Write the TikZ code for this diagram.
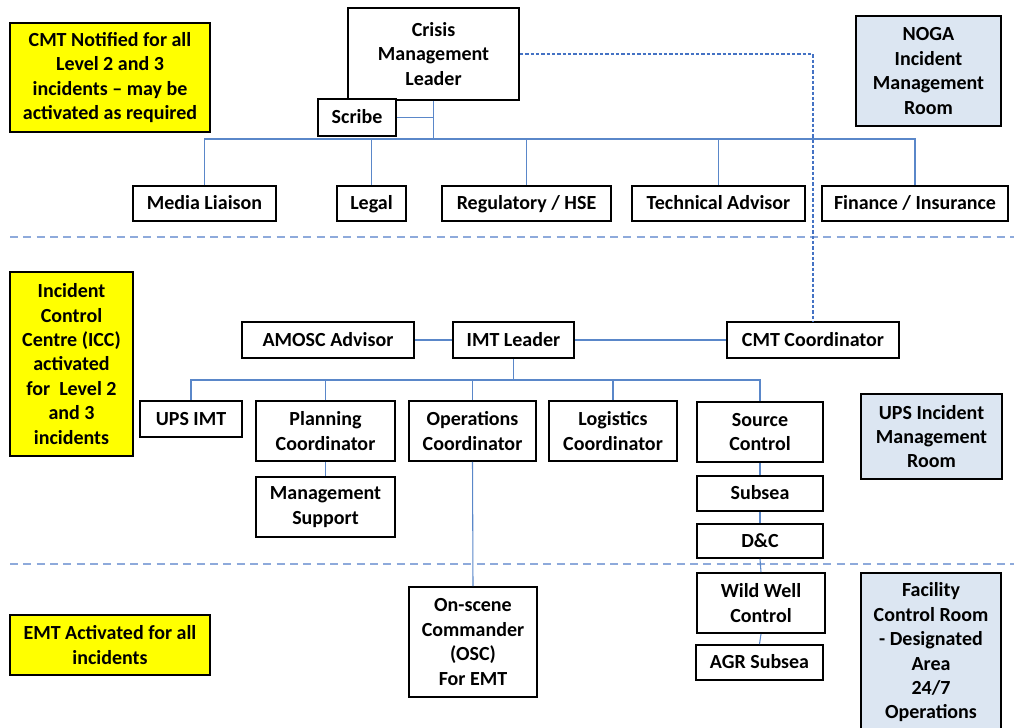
\documentclass[tikz,border=0pt]{standalone}
\usepackage{fontspec}
\setmainfont{Carlito}
\definecolor{noteyellow}{HTML}{FFFF00}
\definecolor{roomblue}{HTML}{DCE6F2}
\definecolor{linkblue}{HTML}{5A87C9}
\definecolor{sepblue}{HTML}{8EAADB}
\definecolor{dashblue}{HTML}{4472C4}
% org box from its corners in px: [style] {x1}{y1}{x2}{y2}{name} {text};
\newcommand{\ob}[6][]{\node[box,#1,minimum width={(#4-#2)*0.75pt},minimum height={(#5-#3)*0.75pt}] (#6) at ({(#2+#4)/2},{(#3+#5)/2})}
\begin{document}
\begin{tikzpicture}[x=0.75pt,y=-0.75pt,
  box/.style={draw=black,line width=1.4pt,fill=white,align=center,inner sep=0pt,
    font=\fontsize{15}{18.3}\selectfont\bfseries},
  oneline/.style={text height=11.4pt,text depth=1.8pt},
  note/.style={fill=noteyellow},
  room/.style={fill=roomblue},
  conn/.style={draw=linkblue,line width=0.8pt},
  sep/.style={draw=sepblue,line width=1.6pt,dash pattern=on 6pt off 4pt},
  dlink/.style={draw=dashblue,line width=0.8pt,dash pattern=on 2.6pt off 1.4pt}]
\useasboundingbox (0,0) rectangle (1014,728);

% tier separators
\coordinate (s1a) at (10,237);  \coordinate (s1b) at (1014,237);
\coordinate (s2a) at (10,564);  \coordinate (s2b) at (1014,564);
\draw[sep] (s1a) -- (s1b);
\draw[sep] (s2a) -- (s2b);

% crisis management tier
\ob[note]{10}{23}{210}{132}{cmtnote} {CMT Notified for all\\Level 2 and 3\\incidents -- may be\\activated as required};
\ob{348}{8}{519}{100}{cml} {Crisis\\Management\\Leader};
\ob[oneline]{318}{99}{396}{136}{scribe} {Scribe};
\ob[room]{856}{16}{1001}{126}{noga} {NOGA\\Incident\\Management\\Room};
\ob[oneline]{133}{186}{276}{221}{media} {Media Liaison};
\ob[oneline]{337}{186}{406}{221}{legal} {Legal};
\ob[oneline]{442}{186}{611}{221}{reg} {Regulatory / HSE};
\ob[oneline]{632}{186}{805}{221}{tech} {Technical Advisor};
\ob[oneline]{822}{186}{1008}{221}{fin} {Finance / Insurance};

% incident management tier
\ob[note]{10}{272}{133}{456}{iccnote} {Incident\\Control\\Centre (ICC)\\activated\\for \ Level 2\\and 3\\incidents};
\ob[oneline]{242}{322}{414}{358}{amosc} {AMOSC Advisor};
\ob[oneline]{453}{322}{574}{358}{imt} {IMT Leader};
\ob[oneline]{727}{322}{899}{358}{cmt} {CMT Coordinator};
\ob[oneline]{140}{401}{242}{437}{ups} {UPS IMT};
\ob{256}{401}{395}{461}{plan} {Planning\\Coordinator};
\ob{256}{477}{395}{537}{mgmt} {Management\\Support};
\ob{409}{401}{536}{461}{ops} {Operations\\Coordinator};
\ob{549}{401}{677}{461}{log} {Logistics\\Coordinator};
\ob{697}{402}{823}{462}{src} {Source\\Control};
\ob[oneline]{697}{476}{823}{511}{subsea} {Subsea};
\ob[oneline]{697}{524}{823}{558}{dc} {D\&C};
\ob[room]{861}{394}{1002}{479}{upsroom} {UPS Incident\\Management\\Room};

% emergency management tier
\ob[note]{10}{615}{210}{675}{emtnote} {EMT Activated for all\\incidents};
\ob{409}{587}{537}{697}{osc} {On-scene\\Commander\\(OSC)\\For EMT};
\ob{697}{573}{825}{633}{wwc} {Wild Well\\Control};
\ob[oneline]{696}{645}{823}{680}{agr} {AGR Subsea};
\ob[room]{861}{573}{1001}{732}{fcr} {Facility\\Control Room\\- Designated\\Area\\24/7\\Operations};

% crisis team reporting lines
\coordinate (tb) at (0,139);
\draw[conn] (cml.south) -- (cml.south |- tb);
\draw[conn] (scribe.east) -- (scribe.east -| cml.south);
\draw[conn] (media.north) |- (tb -| fin.north) -- (fin.north);
\draw[conn] (legal.north) -- (legal.north |- tb);
\draw[conn] (reg.north) -- (reg.north |- tb);
\draw[conn] (tech.north) -- (tech.north |- tb);

% link from crisis leader down to the CMT coordinator
\draw[dlink] (cml.east) -| (cmt.north);

% incident team reporting lines
\coordinate (mb) at (0,380);
\draw[conn] (amosc.east) -- (imt.west);
\draw[conn] (imt.east) -- (cmt.west);
\draw[conn] (imt.south) -- (imt.south |- mb);
\draw[conn] (ups.north) |- (mb -| src.north) -- (src.north);
\draw[conn] (plan.north) -- (plan.north |- mb);
\draw[conn] (ops.north) -- (ops.north |- mb);
\draw[conn] (log.north) -- (log.north |- mb);
\draw[conn] (plan.south) -- (mgmt.north);
\draw[conn] (src.south) -- (subsea.north);
\draw[conn] (subsea.south) -- (dc.north);
\draw[conn] (dc.south) -- (wwc.north);
\draw[conn] (wwc.south) -- (agr.north);
\draw[conn] (ops.south) -- (osc.north);
\end{tikzpicture}
\end{document}
